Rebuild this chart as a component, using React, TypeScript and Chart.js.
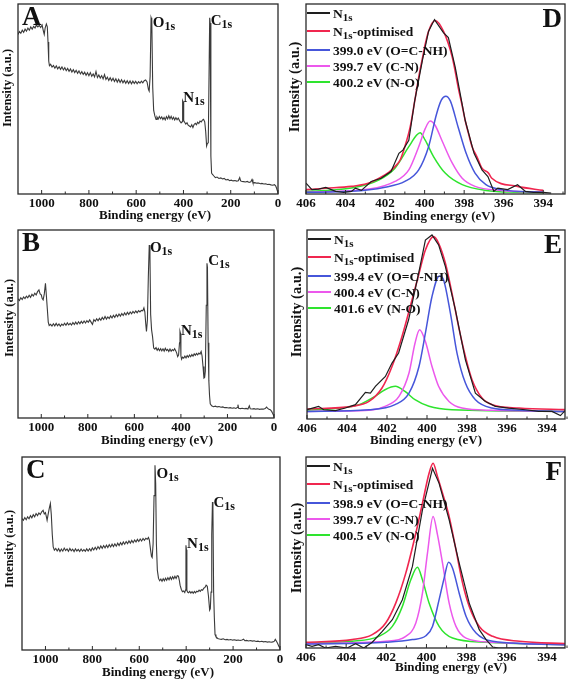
import React, { useEffect, useRef } from "react";
import { Chart, registerables } from "chart.js";
Chart.register(...registerables);

const W = 569;
const H = 680;
const SERIF = '"Liberation Serif", "Times New Roman", serif';
const X_AXIS_H = 22;

type Pt = [number, number];

// ---------- tick values ----------
const surveyTicks = [0, 200, 400, 600, 800, 1000];
const surveyMinor = [100, 300, 500, 700, 900];
const n1sTicks = [394, 396, 398, 400, 402, 404, 406];
const n1sMinor = [393, 395, 397, 399, 401, 403, 405];

// ---------- survey spectra (binding energy eV, intensity a.u.) ----------
const surveyA: Pt[] = [
  [1100, 84], [1094, 85.5], [1088, 84.6], [1082, 86.2], [1076, 85.1], [1070, 86.8], [1064, 85.7], [1058, 87.3],
  [1052, 86.2], [1046, 87.9], [1040, 86.8], [1034, 88.2], [1028, 87.4], [1022, 89.0], [1016, 87.9], [1010, 88.7],
  [1004, 87.6], [998, 88.9], [993, 86.0], [989, 84.0], [985, 87.5], [980, 89.5], [976, 88.0], [973, 80.0],
  [970, 70.0], [967, 67.5], [962, 68.3], [956, 66.8], [950, 67.6], [944, 66.2], [938, 67.4], [932, 65.9],
  [926, 67.0], [920, 65.6], [914, 66.9], [908, 65.3], [902, 66.5], [896, 64.9], [890, 66.1], [884, 64.6],
  [878, 65.8], [872, 64.2], [866, 65.4], [860, 63.9], [854, 65.1], [848, 63.5], [842, 64.8], [836, 63.2],
  [830, 64.4], [824, 62.9], [818, 64.1], [812, 62.5], [806, 63.8], [800, 62.3], [794, 63.9], [788, 62.0],
  [782, 63.2], [776, 61.6], [770, 64.5], [764, 61.3], [758, 62.6], [752, 61.0], [746, 62.3], [740, 60.6],
  [734, 62.8], [728, 60.3], [722, 61.5], [716, 59.8], [710, 61.2], [704, 59.6], [698, 60.9], [692, 59.2],
  [686, 60.6], [680, 58.9], [674, 60.4], [668, 58.7], [662, 60.1], [656, 58.5], [650, 59.8], [644, 58.3],
  [638, 59.6], [632, 58.1], [626, 59.5], [620, 58.0], [614, 59.4], [608, 58.2], [602, 59.3], [596, 58.0],
  [590, 59.1], [584, 58.3], [578, 59.4], [572, 58.5], [566, 59.6], [560, 60.0], [554, 59.0], [548, 55.0],
  [545, 54.2], [541, 62], [537, 92.8], [534, 91.5], [530, 56], [526, 44], [521, 41.1], [516, 39.3],
  [512, 40.5], [507, 39.4], [502, 40.8], [497, 39.6], [492, 40.6], [487, 39.2], [482, 40.3], [477, 39.0],
  [472, 40.7], [467, 39.5], [462, 41.2], [457, 39.6], [452, 40.9], [447, 39.3], [442, 40.4], [437, 39.0],
  [432, 40.2], [427, 39.1], [422, 40.0], [416, 38.5], [410, 37.4], [406, 38.0], [403.5, 49.1], [401.5, 48.5],
  [399, 38.6], [395, 37.8], [390, 36.8], [385, 37.5], [380, 36.2], [375, 35.8], [370, 35.3], [365, 36.4],
  [360, 35.0], [355, 36.6], [350, 37.2], [345, 36.5], [340, 37.8], [335, 37.1], [330, 38.4], [325, 37.9],
  [320, 38.9], [315, 39.3], [310, 38.0], [306, 33.0], [302, 25.3], [299, 26.5], [295, 27], [289, 92.8],
  [287, 90], [284, 20], [281, 11], [278, 10.5], [272, 9.6], [265, 8.6], [258, 8.9], [250, 8.2],
  [242, 8.5], [235, 7.9], [228, 8.2], [220, 7.4], [212, 7.7], [205, 7.0], [198, 7.3], [190, 6.9],
  [182, 7.1], [175, 6.8], [168, 7.0], [162, 8.6], [158, 6.9], [152, 6.6], [145, 6.5], [138, 6.3],
  [130, 6.6], [122, 6.1], [115, 6.4], [110, 7.6], [106, 5.9], [98, 6.0], [90, 5.7], [82, 5.8],
  [75, 5.4], [68, 5.6], [60, 5.3], [52, 5.4], [45, 5.0], [38, 5.1], [30, 4.8], [22, 4.6],
  [15, 4.9], [10, 4.3], [6, 3.0], [3, 1.8], [0, 0.8],
];

const surveyB: Pt[] = [
  [1100, 63.4], [1094, 62.5], [1088, 64.0], [1082, 63.0], [1076, 64.4], [1070, 63.5], [1064, 64.8], [1058, 63.9],
  [1052, 65.3], [1046, 64.2], [1040, 65.8], [1034, 64.9], [1028, 66.4], [1022, 65.5], [1016, 67.2], [1010, 68.1],
  [1005, 66.0], [1000, 65.5], [996, 63.5], [992, 62.8], [987, 66], [982, 71.7], [978, 65], [974, 58],
  [970, 51], [966, 49.2], [960, 49.8], [954, 48.9], [948, 50.1], [942, 49.0], [936, 50.3], [930, 49.1],
  [924, 50.0], [918, 48.8], [912, 49.9], [906, 49.2], [900, 50.4], [894, 49.3], [888, 50.6], [882, 49.5],
  [876, 50.3], [870, 49.4], [864, 50.8], [858, 49.7], [852, 51.0], [846, 49.9], [840, 51.2], [834, 50.1],
  [828, 51.4], [822, 50.4], [816, 51.6], [810, 50.5], [804, 51.8], [798, 50.9], [792, 52.2], [786, 51.0],
  [780, 49.8], [774, 52.3], [768, 51.4], [762, 52.8], [756, 51.7], [750, 53.0], [744, 52.0], [738, 53.5],
  [732, 52.4], [726, 54.0], [720, 52.6], [714, 53.8], [708, 52.9], [702, 54.3], [696, 53.2], [690, 54.6],
  [684, 53.5], [678, 55.0], [672, 53.9], [666, 55.3], [660, 54.2], [654, 55.6], [648, 54.5], [642, 55.9],
  [636, 54.8], [630, 56.2], [624, 55.1], [618, 56.4], [612, 55.4], [606, 56.7], [600, 55.8], [594, 56.9],
  [588, 56.0], [582, 57.1], [576, 56.4], [570, 57.2], [564, 57.0], [559, 58.6], [555, 56.5], [551, 50],
  [548, 46.0], [544, 52], [540, 75], [536, 92.0], [533, 86], [530, 55], [526, 46.9], [522, 43.4],
  [517, 37.2], [512, 36.6], [507, 37.4], [502, 36.0], [497, 37.0], [492, 35.8], [487, 36.9], [482, 35.7],
  [477, 36.8], [472, 35.6], [467, 37.1], [462, 35.9], [457, 36.5], [452, 35.4], [447, 36.7], [442, 35.5],
  [437, 36.4], [432, 35.8], [427, 36.9], [422, 35.7], [418, 34.5], [414, 32.7], [410, 33.5], [406, 40],
  [404, 46.0], [402, 45], [400, 33], [397, 31.3], [393, 32.4], [388, 31.8], [383, 32.9], [378, 32.0],
  [373, 33.2], [368, 32.3], [363, 33.5], [358, 32.6], [353, 33.8], [348, 32.9], [343, 34.1], [338, 33.3],
  [333, 34.3], [328, 33.6], [323, 34.5], [318, 34.0], [313, 35.4], [309, 33], [305, 27.4], [301, 21.2],
  [298, 21.5], [295, 25], [291, 60], [288, 82.3], [286, 80], [283, 40], [280, 20], [277, 12],
  [274, 7.5], [268, 6.5], [260, 6.0], [252, 6.3], [244, 5.9], [236, 6.1], [228, 5.7], [220, 5.9],
  [212, 5.5], [204, 5.6], [196, 5.3], [188, 5.5], [180, 5.2], [172, 5.4], [164, 5.1], [158, 5.6],
  [155, 7.1], [152, 5.2], [144, 5.0], [136, 5.2], [128, 4.9], [120, 5.1], [112, 4.8], [106, 6.5],
  [102, 4.9], [94, 4.8], [86, 5.0], [78, 4.7], [70, 4.9], [62, 4.6], [54, 4.8], [46, 4.7],
  [38, 5.0], [32, 5.8], [28, 5.2], [22, 4.6], [16, 4.4], [10, 3.5], [5, 2.2], [0, 0.9],
];

const surveyC: Pt[] = [
  [1100, 68.1], [1094, 67.2], [1088, 68.6], [1082, 67.5], [1076, 69.0], [1070, 68.0], [1064, 69.6], [1058, 68.5],
  [1052, 70.1], [1046, 69.0], [1040, 70.7], [1034, 69.6], [1028, 71.0], [1022, 70.2], [1016, 71.6], [1010, 72.4],
  [1005, 70.5], [1000, 71.2], [996, 69.0], [993, 67.2], [989, 70], [984, 73.3], [979, 75.9], [975, 70],
  [971, 60], [967, 53.4], [962, 51.7], [956, 52.6], [950, 51.3], [944, 52.5], [938, 51.0], [932, 52.3],
  [926, 51.2], [920, 52.8], [914, 51.5], [908, 52.4], [902, 51.1], [896, 52.6], [890, 51.4], [884, 52.2],
  [878, 51.0], [872, 52.4], [866, 51.3], [860, 52.1], [854, 51.0], [848, 52.3], [842, 51.2], [836, 52.0],
  [830, 51.1], [824, 52.4], [818, 51.3], [812, 52.5], [806, 51.4], [800, 52.9], [794, 51.8], [788, 53.2],
  [782, 52.0], [776, 53.6], [770, 52.4], [764, 53.9], [758, 52.7], [752, 54.1], [746, 52.9], [740, 54.3],
  [734, 53.1], [728, 54.6], [722, 53.4], [716, 54.8], [710, 53.6], [704, 55.0], [698, 53.8], [692, 55.3],
  [686, 54.1], [680, 55.6], [674, 54.5], [668, 56.0], [662, 54.8], [656, 56.2], [650, 55.1], [644, 56.5],
  [638, 55.4], [632, 56.8], [626, 55.6], [620, 57.0], [614, 56.0], [608, 57.3], [602, 56.2], [596, 57.5],
  [590, 56.5], [584, 57.8], [578, 56.8], [572, 57.9], [566, 57.4], [561, 58.3], [557, 57.0], [552, 52],
  [548, 48.5], [545, 47.9], [541, 55], [537, 80], [533, 95.7], [530, 86], [527, 55], [523, 41.4],
  [518, 37.1], [513, 35.9], [508, 36.8], [503, 35.6], [498, 36.9], [493, 35.9], [488, 37.2], [483, 36.1],
  [478, 37.5], [473, 36.4], [468, 37.8], [463, 36.6], [458, 38.0], [453, 36.9], [448, 38.2], [443, 37.1],
  [438, 38.5], [433, 38.3], [429, 36], [426, 33.6], [421, 31.5], [416, 30.2], [411, 30.6], [406, 29.8],
  [403, 31], [401, 54.3], [399, 52], [397, 31], [394, 30.0], [390, 29.7], [385, 30.4], [380, 29.5],
  [375, 30.2], [370, 29.4], [365, 30.3], [360, 29.6], [355, 30.5], [350, 30.2], [345, 31.0], [340, 30.4],
  [335, 31.3], [330, 31.0], [325, 32.0], [320, 32.4], [315, 33.6], [310, 33.0], [305, 28], [300, 20.7],
  [297, 21.5], [294, 30], [291, 60], [288, 76.7], [286, 74], [283, 30], [280, 17], [277, 8],
  [273, 6.9], [266, 6.0], [258, 5.7], [250, 5.5], [242, 5.8], [234, 5.3], [226, 5.5], [218, 5.2],
  [210, 5.4], [202, 5.1], [194, 5.3], [186, 5.0], [178, 5.2], [170, 4.9], [162, 5.2], [155, 5.6],
  [150, 4.8], [142, 5.0], [134, 4.7], [126, 4.9], [118, 4.6], [110, 4.8], [102, 4.4], [94, 4.6],
  [86, 4.3], [78, 4.5], [70, 4.2], [62, 4.4], [54, 4.1], [46, 4.3], [38, 4.0], [30, 4.2],
  [24, 4.6], [20, 5.5], [15, 4.5], [10, 3.4], [5, 2.0], [0, 0.9],
];

// ---------- N1s high-resolution spectra ----------
const dRaw: Pt[] = [
  [406, 5.7], [405.7, 2.3], [405.36, 2.6], [405.0, 3.5], [404.5, 1.4], [404.1, 0.9], [403.7, 1.4], [403.5, 3.1],
  [403.2, 1.9], [402.7, 6.6], [402.2, 8.3], [401.7, 11.8], [401.3, 21.4], [401.1, 23.1], [400.8, 28.3], [400.5, 49.2],
  [400.1, 71.0], [399.8, 85.7], [399.5, 91.8], [399.05, 84.9], [398.8, 82.3], [398.45, 66.6], [397.95, 38.8], [397.5, 21.4],
  [397.1, 12.7], [396.8, 9.2], [396.5, 1.4], [396.3, 3.1], [395.8, 2.3], [395.3, 4.9], [394.9, 1.4], [394.5, 0.9],
  [394.0, 0.9], [393.6, 0.5],
];
const dFit: Pt[] = [
  [406, 2.3], [405, 3.0], [403.7, 4.0], [402.9, 5.5], [402.3, 8.3], [401.8, 11.5], [401.5, 14.4], [401.24, 17.9],
  [401.0, 24.9], [400.73, 35.3], [400.5, 49], [400.3, 61.4], [400.1, 72], [399.97, 78.8], [399.8, 85.7], [399.47, 91.3],
  [399.05, 85.7], [398.6, 72], [398.46, 64.9], [398.3, 56], [398.12, 47.5], [397.95, 38.8], [397.78, 31.8], [397.6, 24.9],
  [397.36, 19.7], [397.1, 13.6], [396.77, 11], [396.6, 8.3], [395.3, 4.0], [394.0, 1.9],
];
const dAmide: Pt[] = [
  [406, 0.9], [403.7, 1.4], [402, 3.6], [401, 6.6], [400.3, 12.7], [399.8, 24.9], [399.4, 42], [399.15, 49.5],
  [398.93, 51.5], [398.7, 49], [398.3, 35], [397.9, 21.4], [397.45, 11], [396.9, 4.9], [396.1, 2.3], [394, 0.9],
];
const dCN: Pt[] = [
  [406, 0.9], [402.8, 2.6], [401.5, 6.6], [400.8, 12.7], [400.3, 24.9], [399.97, 34.4], [399.72, 38.4], [399.47, 36.2],
  [399.13, 28.3], [398.6, 16.2], [398.1, 8.3], [397.45, 4.0], [396.1, 1.9], [394, 0.9],
];
const dNO: Pt[] = [
  [406, 1.4], [403.7, 3.1], [402.3, 7.5], [401.5, 13.6], [400.8, 24.9], [400.4, 31], [400.23, 32.2], [399.97, 28.3],
  [399.55, 19.7], [398.96, 11], [398.1, 4.9], [396.9, 1.9], [395.3, 0.9], [394, 0.7],
];

const eRaw: Pt[] = [
  [406, 4.9], [405.42, 6.7], [405.17, 4.9], [404.58, 4.4], [404.08, 5.8], [403.58, 7.6], [403.08, 14.1], [402.83, 13.7],
  [402.58, 17.3], [402.08, 22.5], [401.75, 29.6], [401.42, 34.9], [400.92, 52.5], [400.42, 77.1], [400.08, 94.7], [399.75, 97.4],
  [399.42, 92.1], [399.08, 80.6], [398.58, 57.7], [398.08, 31.3], [397.58, 13.7], [397.08, 9.3], [396.58, 6.7], [395.92, 5.8],
  [395.08, 4.9], [394.42, 4.0], [393.75, 4.0], [393.33, 1.8], [393.08, 4.6],
];
const eFit: Pt[] = [
  [406, 5.3], [403.75, 6.7], [402.9, 9.3], [402.25, 16.4], [401.75, 27.8], [401.25, 43.7], [400.75, 63], [400.4, 77],
  [400.08, 89.4], [399.67, 96.5], [399.42, 93], [399.08, 82.4], [398.75, 66.5], [398.42, 48.9], [398.08, 33.1], [397.75, 20.8],
  [397.25, 11.1], [396.75, 7.6], [395.4, 5.8], [393, 4.9],
];
const eAmide: Pt[] = [
  [406, 4.0], [402.9, 4.9], [401.6, 7.6], [400.9, 13.7], [400.4, 27.8], [400.08, 45.4], [399.75, 64.8], [399.38, 75.7],
  [399.17, 73.6], [398.83, 56], [398.5, 34.9], [398.08, 19], [397.58, 10.2], [396.75, 5.8], [395.4, 4.6], [393, 4.0],
];
const eCN: Pt[] = [
  [406, 4.0], [402.9, 4.6], [402.1, 6.7], [401.4, 12], [400.9, 24.3], [400.6, 40.1], [400.37, 47.2], [400.08, 41],
  [399.75, 27.8], [399.42, 17.3], [398.9, 9.3], [398.25, 5.8], [396.75, 4.6], [393, 4.0],
];
const eNO: Pt[] = [
  [406, 4.6], [404.6, 5.5], [403.4, 7.6], [402.6, 12], [402.1, 15.5], [401.58, 17.3], [401.1, 14.6], [400.6, 10.2],
  [399.9, 6.7], [398.75, 4.9], [393, 4.0],
];

const fRaw: Pt[] = [
  [406, 1.7], [405.7, 0.9], [405.37, 1.7], [405.03, 0], [404.53, 0.9], [403.95, 0], [403.53, 2.3], [403.12, 0],
  [402.7, 3], [402.2, 8.7], [401.7, 14.8], [401.2, 25.3], [400.7, 42.7], [400.2, 72.3], [399.7, 94.1], [399.37, 86.2],
  [398.87, 67.1], [398.37, 44.4], [397.87, 23.5], [397.37, 9.6], [397.03, 4.4], [396.7, 0.5], [396.4, 0], [393, 0],
];
const fFit: Pt[] = [
  [406, 3], [403.7, 4.4], [402.7, 7], [402.03, 13.1], [401.53, 23.5], [401.03, 39.2], [400.53, 60.1], [400.2, 75.8],
  [399.87, 91.5], [399.67, 96.7], [399.45, 89.7], [399.2, 81], [398.87, 68.8], [398.53, 51.4], [398.2, 34], [397.87, 21.8],
  [397.37, 11.3], [396.7, 6.1], [395.37, 3.5], [393, 2.3],
];
const fAmide: Pt[] = [
  [406, 2.1], [402.03, 3], [400.7, 4.4], [400.03, 6.4], [399.7, 11.3], [399.37, 25.3], [399.12, 36.6], [398.9, 44.9],
  [398.7, 41.8], [398.37, 28.7], [398.03, 16.6], [397.53, 7.8], [396.7, 3.5], [393, 1.7],
];
const fCN: Pt[] = [
  [406, 2.3], [402.03, 3.5], [401.03, 6.1], [400.53, 13.1], [400.2, 28.7], [399.95, 49.7], [399.67, 68.8], [399.45, 59.2],
  [399.2, 44.4], [398.87, 23.5], [398.53, 11.3], [398.03, 5.2], [396.7, 3], [393, 1.7],
];
const fNO: Pt[] = [
  [406, 2.6], [403.7, 3.5], [402.37, 6.1], [401.7, 11.3], [401.2, 21.8], [400.78, 35.7], [400.45, 42.3], [400.2, 35.7],
  [399.87, 23.5], [399.37, 11.3], [398.7, 5.2], [397.03, 3], [393, 1.7],
];

// ---------- legend texts ----------
const legendD = ["399.0 eV (O=C-NH)", "399.7 eV (C-N)", "400.2 eV (N-O)"];
const legendE = ["399.4 eV (O=C-NH)", "400.4 eV (C-N)", "401.6 eV (N-O)"];
const legendF = ["398.9 eV (O=C-NH)", "399.7 eV (C-N)", "400.5 eV (N-O)"];

// ---------- styling ----------
const C_SURVEY = "#3a3a3a";
const C_RAW = "#1e1e1e";
const C_FIT = "#f0264f";
const C_AMIDE = "#4656da";
const C_CN = "#ec58ec";
const C_NO = "#2ee42e";

type Series = { data: Pt[]; color: string; width: number; smooth: boolean };
type PeakLabel = { main: string; sub: string; x: number; y: number };
type LegendItem = { main: string; sub?: string; rest?: string; color: string };
type PanelSpec = {
  letter: string;
  letterRight: boolean;
  rect: [number, number, number, number];
  xMin: number;
  xMax: number;
  major: number[];
  minor: number[];
  series: Series[];
  peaks?: PeakLabel[];
  legend?: LegendItem[];
  yTitle: [number, number, number];
  xTitle: [number, number];
};

const surveySeries = (d: Pt[]): Series[] => [{ data: d, color: C_SURVEY, width: 1.1, smooth: false }];
const n1sSeries = (raw: Pt[], fit: Pt[], a: Pt[], c: Pt[], n: Pt[]): Series[] => [
  { data: raw, color: C_RAW, width: 1.2, smooth: false },
  { data: fit, color: C_FIT, width: 1.6, smooth: true },
  { data: a, color: C_AMIDE, width: 1.5, smooth: true },
  { data: c, color: C_CN, width: 1.5, smooth: true },
  { data: n, color: C_NO, width: 1.5, smooth: true },
];
const n1sLegend = (t: string[]): LegendItem[] => [
  { main: "N", sub: "1s", color: C_RAW },
  { main: "N", sub: "1s", rest: "-optimised", color: C_FIT },
  { main: t[0], color: C_AMIDE },
  { main: t[1], color: C_CN },
  { main: t[2], color: C_NO },
];

const PANELS: PanelSpec[] = [
  {
    letter: "A", letterRight: false, rect: [18, 4, 278, 194], xMin: 0, xMax: 1100,
    major: surveyTicks, minor: surveyMinor, series: surveySeries(surveyA),
    peaks: [
      { main: "O", sub: "1s", x: 530, y: 88 },
      { main: "N", sub: "1s", x: 401, y: 48.4 },
      { main: "C", sub: "1s", x: 285, y: 89 },
    ],
    yTitle: [8, 88, 12.5], xTitle: [155, 216],
  },
  {
    letter: "B", letterRight: false, rect: [18, 230, 274, 418], xMin: 0, xMax: 1100,
    major: surveyTicks, minor: surveyMinor, series: surveySeries(surveyB),
    peaks: [
      { main: "O", sub: "1s", x: 533, y: 88.3 },
      { main: "N", sub: "1s", x: 400, y: 44.1 },
      { main: "C", sub: "1s", x: 283, y: 81.4 },
    ],
    yTitle: [10, 318, 12.5], xTitle: [157, 441],
  },
  {
    letter: "C", letterRight: false, rect: [22, 457, 280, 650], xMin: 0, xMax: 1100,
    major: surveyTicks, minor: surveyMinor, series: surveySeries(surveyC),
    peaks: [
      { main: "O", sub: "1s", x: 527, y: 89.1 },
      { main: "N", sub: "1s", x: 396, y: 52.8 },
      { main: "C", sub: "1s", x: 284, y: 74.1 },
    ],
    yTitle: [10, 549, 12.5], xTitle: [158, 673],
  },
  {
    letter: "D", letterRight: true, rect: [306, 4, 565, 194], xMin: 392.9, xMax: 406,
    major: n1sTicks, minor: n1sMinor, series: n1sSeries(dRaw, dFit, dAmide, dCN, dNO),
    legend: n1sLegend(legendD), yTitle: [295, 87, 14.5], xTitle: [439, 217],
  },
  {
    letter: "E", letterRight: true, rect: [307, 230, 565, 419], xMin: 393.1, xMax: 406,
    major: n1sTicks, minor: n1sMinor, series: n1sSeries(eRaw, eFit, eAmide, eCN, eNO),
    legend: n1sLegend(legendE), yTitle: [297, 312, 14.5], xTitle: [426, 441],
  },
  {
    letter: "F", letterRight: true, rect: [306, 457, 565, 648], xMin: 393.1, xMax: 406,
    major: n1sTicks, minor: n1sMinor, series: n1sSeries(fRaw, fFit, fAmide, fCN, fNO),
    legend: n1sLegend(legendF), yTitle: [297, 548, 14.5], xTitle: [451, 668],
  },
];

function drawRich(
  ctx: CanvasRenderingContext2D, x: number, y: number, main: string,
  sub: string | undefined, rest: string | undefined, mainPx: number, subPx: number, drop: number
) {
  ctx.textAlign = "left";
  ctx.textBaseline = "alphabetic";
  ctx.font = `bold ${mainPx}px ${SERIF}`;
  ctx.fillText(main, x, y);
  let cx = x + ctx.measureText(main).width;
  if (sub) {
    ctx.font = `bold ${subPx}px ${SERIF}`;
    ctx.fillText(sub, cx, y + drop);
    cx += ctx.measureText(sub).width;
  }
  if (rest) {
    ctx.font = `bold ${mainPx}px ${SERIF}`;
    ctx.fillText(rest, cx, y);
  }
}

function Panel({ spec }: { spec: PanelSpec }) {
  const ref = useRef<HTMLCanvasElement | null>(null);
  useEffect(() => {
    const canvas = ref.current;
    if (!canvas) return;
    const [l, t, r, b] = spec.rect;
    const decor = {
      id: "decor",
      afterDraw(chart: any) {
        const ctx: CanvasRenderingContext2D = chart.ctx;
        const a = chart.chartArea;
        const xs = chart.scales.x;
        const ys = chart.scales.y;
        ctx.save();
        // frame
        ctx.strokeStyle = "#2a2a2a";
        ctx.lineWidth = 1.3;
        ctx.strokeRect(a.left, a.top, a.right - a.left, a.bottom - a.top);
        // inward ticks
        ctx.lineWidth = 1;
        ctx.beginPath();
        spec.major.forEach((v) => {
          const px = xs.getPixelForValue(v);
          ctx.moveTo(px, a.bottom);
          ctx.lineTo(px, a.bottom - 4);
        });
        spec.minor.forEach((v) => {
          const px = xs.getPixelForValue(v);
          ctx.moveTo(px, a.bottom);
          ctx.lineTo(px, a.bottom - 2.5);
        });
        ctx.stroke();
        ctx.fillStyle = "#111";
        // x title
        ctx.font = `bold 13px ${SERIF}`;
        ctx.textAlign = "center";
        ctx.textBaseline = "middle";
        ctx.fillText("Binding energy (eV)", spec.xTitle[0], spec.xTitle[1]);
        // y title
        ctx.save();
        ctx.translate(spec.yTitle[0], spec.yTitle[1]);
        ctx.rotate(-Math.PI / 2);
        ctx.font = `bold ${spec.yTitle[2]}px ${SERIF}`;
        ctx.fillText("Intensity (a.u.)", 0, 0);
        ctx.restore();
        // panel letter
        ctx.font = `bold 27px ${SERIF}`;
        ctx.textBaseline = "alphabetic";
        if (spec.letterRight) {
          ctx.textAlign = "right";
          ctx.fillText(spec.letter, a.right - 3, a.top + 23);
        } else {
          ctx.textAlign = "left";
          ctx.fillText(spec.letter, a.left + 4, a.top + 21);
        }
        // peak labels
        (spec.peaks || []).forEach((p) => {
          drawRich(ctx, xs.getPixelForValue(p.x), ys.getPixelForValue(p.y), p.main, p.sub, undefined, 15, 12, 3);
        });
        // legend
        const rows = [9, 27, 46, 62, 78];
        (spec.legend || []).forEach((it, i) => {
          const ly = a.top + rows[i];
          ctx.strokeStyle = it.color;
          ctx.lineWidth = 2;
          ctx.beginPath();
          ctx.moveTo(a.left + 1, ly);
          ctx.lineTo(a.left + 24, ly);
          ctx.stroke();
          ctx.fillStyle = "#111";
          drawRich(ctx, a.left + 27, ly + 4.5, it.main, it.sub, it.rest, 13.5, 11, 3.5);
        });
        ctx.restore();
      },
    };
    const chart = new Chart(canvas, {
      type: "line",
      data: {
        datasets: spec.series.map((s) => ({
          data: s.data.map(([x, y]) => ({ x, y })),
          borderColor: s.color,
          backgroundColor: s.color,
          borderWidth: s.width,
          pointRadius: 0,
          fill: false,
          tension: 0,
          cubicInterpolationMode: s.smooth ? "monotone" : "default",
        })),
      } as any,
      options: {
        responsive: false,
        animation: false,
        devicePixelRatio: 1,
        events: [],
        layout: { padding: { left: l, top: t, right: W - r, bottom: H - b - X_AXIS_H } },
        plugins: { legend: { display: false }, tooltip: { enabled: false }, title: { display: false } },
        scales: {
          x: {
            type: "linear",
            reverse: true,
            min: spec.xMin,
            max: spec.xMax,
            afterBuildTicks: (s: any) => {
              s.ticks = spec.major.map((v) => ({ value: v }));
            },
            afterFit: (s: any) => {
              s.height = X_AXIS_H;
            },
            grid: { display: false, drawTicks: false },
            border: { display: false },
            ticks: {
              autoSkip: false,
              maxRotation: 0,
              padding: 1.5,
              color: "#111",
              font: { family: SERIF, size: 13, weight: "bold" },
              callback: (v: any) => String(v),
            },
          },
          y: { type: "linear", display: false, min: 0, max: 100 },
        },
      } as any,
      plugins: [decor],
    });
    return () => chart.destroy();
  }, [spec]);
  return (
    <canvas
      ref={ref}
      width={W}
      height={H}
      style={{ position: "absolute", left: 0, top: 0, width: W, height: H }}
    />
  );
}

export default function App() {
  return (
    <div style={{ position: "absolute", left: 0, top: 0, width: W, height: H, background: "#fff" }}>
      {PANELS.map((p) => (
        <Panel key={p.letter} spec={p} />
      ))}
    </div>
  );
}
